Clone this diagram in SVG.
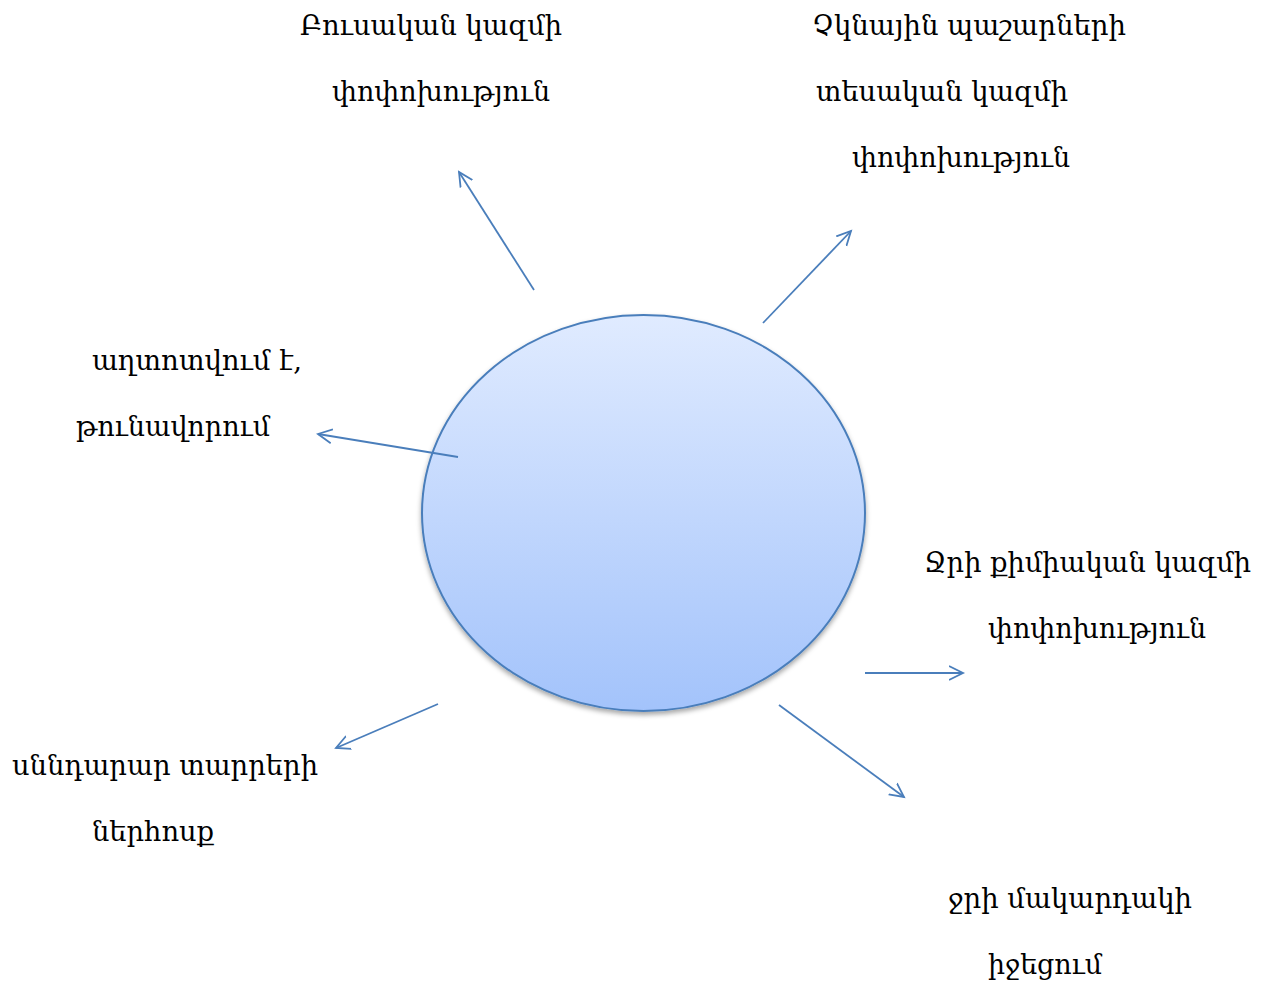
<svg xmlns="http://www.w3.org/2000/svg" width="1270" height="986" viewBox="0 0 1270 986">
<style>
text{font-family:"DejaVu Serif","Noto Serif","Noto Sans",serif;font-size:27px;fill:#000}
.c{fill:none;stroke:#4a7ebb;stroke-width:1.8}
</style>
<defs>
<linearGradient id="g" x1="0" y1="0" x2="0" y2="1">
<stop offset="0" stop-color="#e0ebff"/>
<stop offset="1" stop-color="#a3c3fb"/>
</linearGradient>
<filter id="sh" x="-10%" y="-10%" width="120%" height="125%">
<feDropShadow dx="0" dy="3" stdDeviation="2.5" flood-color="#000" flood-opacity="0.35"/>
</filter>
<marker id="a" markerWidth="20" markerHeight="20" refX="14" refY="7" orient="auto" markerUnits="userSpaceOnUse" viewBox="0 0 20 14">
<path d="M0,0 L14,7 L0,14" fill="none" stroke="#4a7ebb" stroke-width="1.8"/>
</marker>
</defs>
<g id="center">
<ellipse cx="643.5" cy="513" rx="221.5" ry="198" fill="url(#g)" stroke="#4a7ebb" stroke-width="2" filter="url(#sh)"/>
</g>
<g id="connectors">
<line class="c" x1="534" y1="290" x2="459" y2="172" marker-end="url(#a)"/>
<line class="c" x1="763" y1="323" x2="851" y2="231" marker-end="url(#a)"/>
<line class="c" x1="458" y1="457" x2="318" y2="434" marker-end="url(#a)"/>
<line class="c" x1="438" y1="704" x2="336" y2="748" marker-end="url(#a)"/>
<line class="c" x1="865" y1="673" x2="963" y2="673" marker-end="url(#a)"/>
<line class="c" x1="779" y1="705" x2="904" y2="797" marker-end="url(#a)"/>
</g>
<g id="label-plant">
<text x="300" y="35" textLength="262" lengthAdjust="spacingAndGlyphs">Բուսական կազմի</text>
<text x="332" y="101" textLength="218" lengthAdjust="spacingAndGlyphs">փոփոխություն</text>
</g>
<g id="label-fish">
<text x="812" y="35" textLength="314" lengthAdjust="spacingAndGlyphs">Չկնային պաշարների</text>
<text x="816" y="101" textLength="252" lengthAdjust="spacingAndGlyphs">տեսական կազմի</text>
<text x="852" y="167" textLength="218" lengthAdjust="spacingAndGlyphs">փոփոխություն</text>
</g>
<g id="label-pollution">
<text x="92" y="370" textLength="210" lengthAdjust="spacingAndGlyphs">աղտոտվում է,</text>
<text x="76" y="436" textLength="194" lengthAdjust="spacingAndGlyphs">թունավորում</text>
</g>
<g id="label-chem">
<text x="924" y="572" textLength="327" lengthAdjust="spacingAndGlyphs">Ջրի քիմիական կազմի</text>
<text x="988" y="638" textLength="218" lengthAdjust="spacingAndGlyphs">փոփոխություն</text>
</g>
<g id="label-nutrients">
<text x="12" y="775" textLength="306" lengthAdjust="spacingAndGlyphs">սննդարար տարրերի</text>
<text x="92" y="841" textLength="122" lengthAdjust="spacingAndGlyphs">ներհոսք</text>
</g>
<g id="label-level">
<text x="948" y="908" textLength="244" lengthAdjust="spacingAndGlyphs">ջրի մակարդակի</text>
<text x="988" y="974" textLength="114" lengthAdjust="spacingAndGlyphs">իջեցում</text>
</g>
</svg>
